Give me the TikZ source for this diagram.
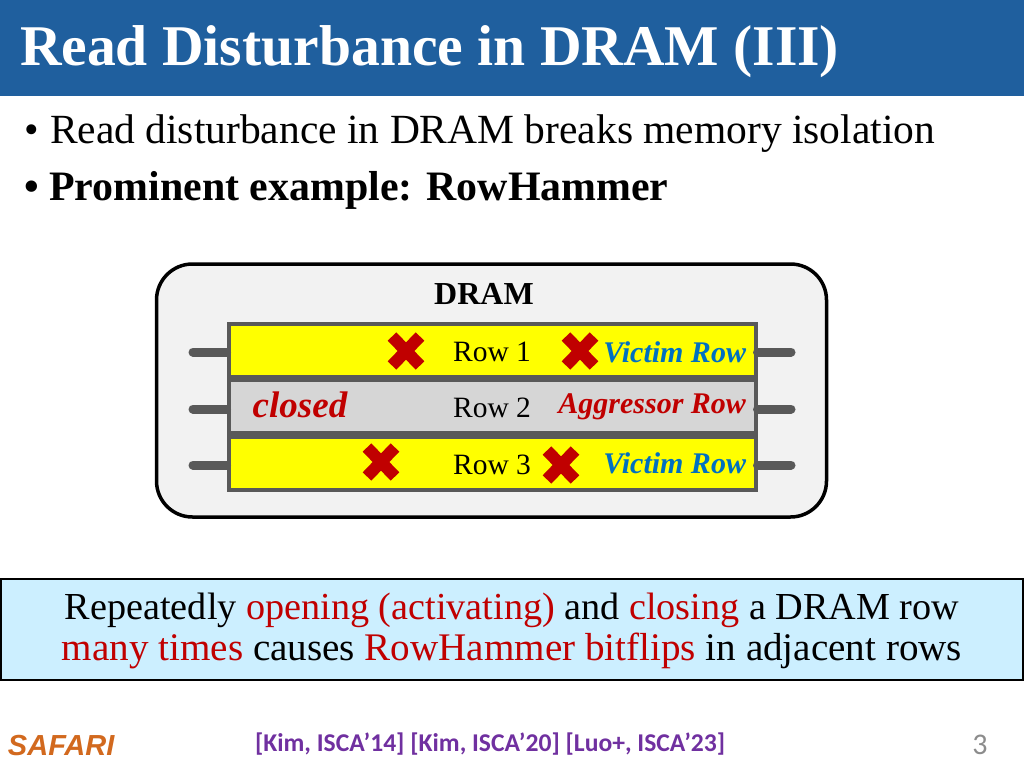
\documentclass[tikz,border=0pt]{standalone}
\usepackage{fontspec}
\setmainfont{Liberation Serif}
\setsansfont{Liberation Sans}
\newfontfamily\citefont{Carlito}
\usetikzlibrary{positioning, shapes.misc}
\definecolor{titleblue}{HTML}{1F5F9E}
\definecolor{rowgray}{HTML}{595959}
\definecolor{rowyellow}{HTML}{FFFF00}
\definecolor{darkred}{HTML}{C00000}
\definecolor{victimblue}{HTML}{0070C0}
\definecolor{notecyan}{HTML}{CCEFFF}
\definecolor{citepurple}{HTML}{7030A0}
\definecolor{safarikhaki}{HTML}{D2691E}
\begin{document}
\begin{tikzpicture}[
x=1pt, y=-1pt,
every node/.style={
    inner sep=0pt,
    outer sep=0pt,
    },
rowbox/.style={
    draw=rowgray,
    line width=4pt,
    minimum width=527pt,
    minimum height=53pt,
    },
rowlabel/.style={
    font=\fontsize{29.5}{32}\selectfont,
    },
tag/.style={
    font=\fontsize{30}{32}\selectfont\bfseries\itshape,
    anchor=east,
    },
biterror/.style={
    cross out,
    draw=darkred,
    line width=12pt,
    minimum width=28pt,
    minimum height=29pt,
    },
stub/.style={
    draw=rowgray,
    line width=9pt,
    line cap=round,
    shorten >=2pt,
    },
]
\useasboundingbox (0,0) rectangle (1024,768);
\fill[white] (0,0) rectangle (1024,768);
% title and bullets
\fill[titleblue] (0,0) rectangle (1024,96);
\node (title) [anchor=base west, text=white, font=\fontsize{57.6}{64}\selectfont\bfseries] at (20,66)
      {Read Disturbance in DRAM (III)};
\node (bulleta) [anchor=base west, font=\fontsize{41.5}{44}\selectfont] at (24,143)
      {•\hspace{11.5pt}Read disturbance in DRAM breaks memory isolation};
\node (bulletb) [anchor=base west, font=\fontsize{41.9}{44}\selectfont\bfseries] at (24,200)
      {•\hspace{10.5pt}Prominent example: RowHammer};
% chip
\node (chip) [draw=black, fill=black!5, line width=3.5pt, rounded corners=36pt,
      minimum width=670pt, minimum height=253pt] at (491.5,390.5) {};
\node (dram) [font=\fontsize{32}{36}\selectfont\bfseries] at (484,294) {DRAM};
\node (rowa) [rowbox, fill=rowyellow] at (492,350) {};
\node (rowb) [rowbox, fill=black!16, below=3.5pt of rowa] {};
\node (rowc) [rowbox, fill=rowyellow, below=3.5pt of rowb] {};
\coordinate (la) at (193,352);
\coordinate (lb) at (193,409);
\coordinate (lc) at (193,465);
\coordinate (ra) at (791,352);
\coordinate (rb) at (791,409);
\coordinate (rc) at (791,465);
\draw[stub] (la) -- (la -| rowa.west);
\draw[stub] (lb) -- (lb -| rowb.west);
\draw[stub] (lc) -- (lc -| rowc.west);
\draw[stub] (ra) -- (ra -| rowa.east);
\draw[stub] (rb) -- (rb -| rowb.east);
\draw[stub] (rc) -- (rc -| rowc.east);
% labels
\node (namea) [rowlabel] at (492,352) {Row 1};
\node (nameb) [rowlabel] at (492,408) {Row 2};
\node (namec) [rowlabel] at (492,465) {Row 3};
\node (closed) [text=darkred, font=\fontsize{37}{40}\selectfont\bfseries\itshape] at (300,405) {closed};
\node (taga) [tag, text=victimblue] at (746,352) {Victim Row};
\node (tagb) [tag, text=darkred] at (746,407) {Aggressor Row};
\node (tagc) [tag, text=victimblue] at (746,463) {Victim Row};
\node (xa) [biterror] at (406,351) {};
\node (xb) [biterror] at (580,351) {};
\node (xc) [biterror] at (381,462) {};
\node (xd) [biterror] at (561,465) {};
% note
\node (note) [draw=black, fill=notecyan, line width=2pt, minimum width=1022pt, minimum height=101pt] at (512,629) {};
\node (notetext) [align=center, font=\fontsize{38.2}{41}\selectfont] at (512,631)
      {Repeatedly \textcolor{darkred}{opening (activating)} and \textcolor{darkred}{closing} a DRAM row\\
       \fontsize{39.1}{41}\selectfont\textcolor{darkred}{many times} causes \textcolor{darkred}{RowHammer bitflips} in adjacent rows};
% footer
\node (safari) [anchor=base west, text=safarikhaki, font=\fontsize{29}{32}\selectfont\sffamily\bfseries\itshape] at (8,755) {SAFARI};
\node (cite) [text=citepurple, font=\citefont\fontsize{25.6}{30}\selectfont\bfseries] at (490,744)
      {[Kim, ISCA’14] [Kim, ISCA’20] [Luo+, ISCA’23]};
\node (page) [text=black!45, font=\citefont\fontsize{30}{32}\selectfont] at (980,745) {3};
\end{tikzpicture}
\end{document}
